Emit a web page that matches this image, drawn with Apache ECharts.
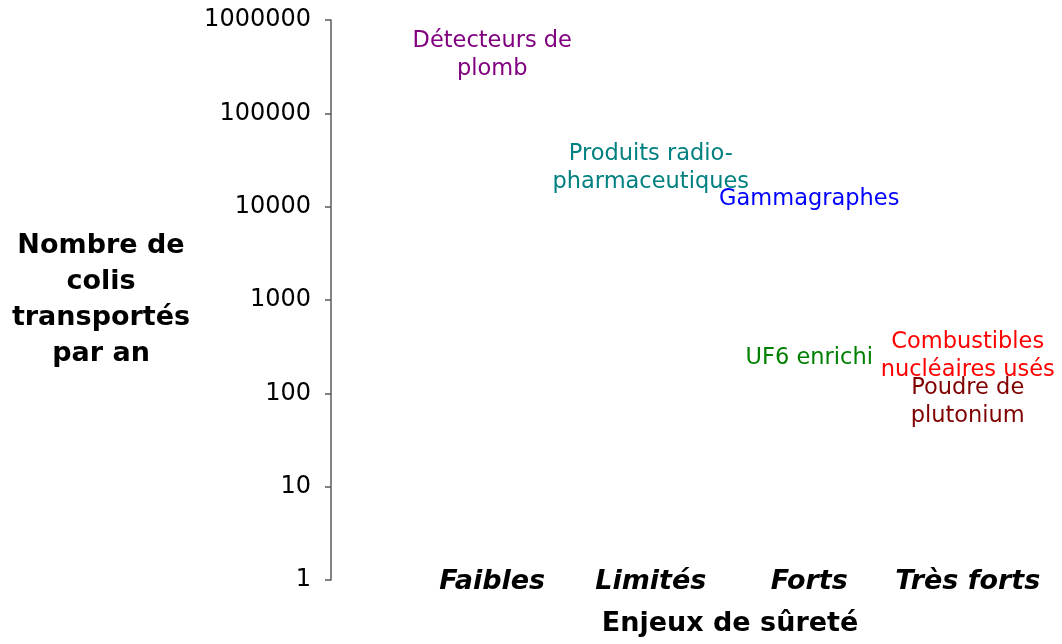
<!DOCTYPE html>
<html>
<head>
<meta charset="utf-8">
<script src="https://cdn.jsdelivr.net/npm/echarts@6/dist/echarts.min.js"></script>
<style>
  html, body { margin: 0; padding: 0; background: #fff; }
  #chart { width: 1062px; height: 644px; }
</style>
</head>
<body>
<div id="chart"></div>
<script>
// categories of the x axis
const categories = ["Faibles", "Limités", "Forts", "Très forts"];
const yTicks = [1, 10, 100, 1000, 10000, 100000, 1000000];

// each material: label, category, packages per year, colour
const names = [
  "Détecteurs de\nplomb",
  "Produits radio-\npharmaceutiques",
  "Gammagraphes",
  "UF6 enrichi",
  "Combustibles\nnucléaires usés",
  "Poudre de\nplutonium"
];
const levels = ["Faibles", "Limités", "Forts", "Forts", "Très forts", "Très forts"];
const packages = [420000, 26000, 12000, 240, 250, 80];
const colors = ["#800080", "#008080", "#0000ff", "#008000", "#ff0000", "#800000"];

const chart = echarts.init(document.getElementById("chart"));

const points = names.map((n, i) => ({
  name: n,
  value: [levels[i], packages[i]],
  label: { color: colors[i] }
}));

chart.setOption({
  animation: false,
  grid: { left: 413, right: 15, top: 20, bottom: 64 },
  xAxis: {
    type: "category",
    data: categories,
    boundaryGap: true,
    axisLine: { show: false },
    axisTick: { show: false },
    axisLabel: {
      interval: 0,
      margin: 2,
      verticalAlign: "middle",
      color: "#000",
      fontFamily: "DejaVu Sans",
      fontSize: 27,
      fontWeight: "bold",
      fontStyle: "italic"
    },
    name: "Enjeux de sûreté",
    nameLocation: "middle",
    nameGap: 30,
    nameTextStyle: {
      color: "#000",
      fontFamily: "DejaVu Sans",
      fontSize: 27,
      fontWeight: "bold"
    }
  },
  yAxis: {
    type: "log",
    logBase: 10,
    min: yTicks[0],
    max: yTicks[yTicks.length - 1],
    offset: 82,
    axisLine: { show: true, lineStyle: { color: "#5a5a5a", width: 1.5 } },
    axisTick: { show: true, length: 6, lineStyle: { color: "#5a5a5a", width: 1.5 } },
    splitLine: { show: false },
    minorTick: { show: false },
    axisLabel: {
      margin: 20,
      color: "#000",
      fontFamily: "DejaVu Sans",
      fontSize: 24,
      formatter: v => String(Math.round(v))
    },
    name: "Nombre de\ncolis\ntransportés\npar an",
    nameLocation: "middle",
    nameGap: 230,
    nameRotate: 0,
    nameTextStyle: {
      align: "center",
      verticalAlign: "middle",
      color: "#000",
      fontFamily: "DejaVu Sans",
      fontSize: 27,
      fontWeight: "bold",
      lineHeight: 36
    }
  },
  series: [
    {
      type: "scatter",
      symbolSize: 1,
      itemStyle: { color: "rgba(0,0,0,0)", opacity: 1 },
      data: points,
      label: {
        show: true,
        position: "inside",
        formatter: p => p.name,
        fontFamily: "DejaVu Sans",
        fontSize: 22.5,
        lineHeight: 28,
        align: "center",
        verticalAlign: "middle"
      }
    }
  ]
});
</script>
</body>
</html>
